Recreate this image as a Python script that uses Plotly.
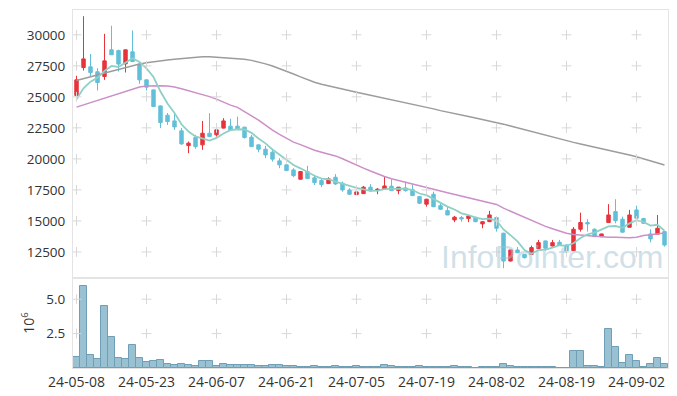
import plotly.graph_objects as go

dates = [
    "24-05-08", "24-05-09", "24-05-10", "24-05-13", "24-05-14", "24-05-16", "24-05-17",
    "24-05-20", "24-05-21", "24-05-22", "24-05-23", "24-05-24", "24-05-27", "24-05-28",
    "24-05-29", "24-05-30", "24-05-31", "24-06-03", "24-06-04", "24-06-05", "24-06-07",
    "24-06-10", "24-06-11", "24-06-12", "24-06-13", "24-06-14", "24-06-17", "24-06-18",
    "24-06-19", "24-06-20", "24-06-21", "24-06-24", "24-06-25", "24-06-26", "24-06-27",
    "24-06-28", "24-07-01", "24-07-02", "24-07-03", "24-07-04", "24-07-05", "24-07-08",
    "24-07-09", "24-07-10", "24-07-11", "24-07-12", "24-07-15", "24-07-16", "24-07-17",
    "24-07-18", "24-07-19", "24-07-22", "24-07-23", "24-07-24", "24-07-25", "24-07-26",
    "24-07-29", "24-07-30", "24-07-31", "24-08-01", "24-08-02", "24-08-05", "24-08-06",
    "24-08-07", "24-08-08", "24-08-09", "24-08-12", "24-08-13", "24-08-14", "24-08-16",
    "24-08-19", "24-08-20", "24-08-21", "24-08-22", "24-08-23", "24-08-26", "24-08-27",
    "24-08-28", "24-08-29", "24-08-30", "24-09-02", "24-09-03", "24-09-04", "24-09-05",
    "24-09-06",
]

open_ = [
    25100, 27360, 27420, 27020, 26640, 28790, 28730, 27660, 28630, 27640,
    26370, 25560, 24270, 23520, 23060, 22260, 21070, 21720, 21130, 22070,
    21940, 22480, 22640, 22640, 22560, 21750, 21130, 20780, 20540, 19840,
    19520, 19110, 18360, 18980, 18470, 18250, 18010, 18520, 18040, 17500,
    17120, 17200, 17720, 17440, 17560, 17800, 17440, 17660, 17520, 16960,
    16350, 17150, 16230, 15830, 15080, 15270, 15190, 15300, 14760, 14940,
    15270, 14010, 11770, 12660, 12310, 12310, 12770, 13390, 12980, 13280,
    13060, 12600, 14330, 14870, 14330, 13730, 14870, 15750, 15140, 14490,
    15890, 15190, 13950, 13930, 14140,
]
high = [
    26700, 31500, 28450, 27310, 30080, 30730, 28800, 28800, 30350, 27650,
    26400, 25600, 24300, 23700, 23690, 22480, 21400, 21940, 23060, 23690,
    22740, 23280, 23230, 23410, 22580, 21930, 21150, 21050, 20780, 20060,
    19540, 19250, 19000, 19440, 18710, 18440, 18520, 18770, 18170, 17640,
    17690, 17820, 17960, 17640, 18580, 18360, 17730, 18170, 17960, 17000,
    16780, 17360, 16430, 16150, 15400, 15400, 15410, 15310, 14960, 15810,
    15300, 14050, 12680, 12900, 12330, 13010, 13470, 13400, 13470, 13470,
    13100, 14500, 15670, 15140, 14400, 13960, 16350, 16750, 15350, 15890,
    16230, 15200, 14330, 15480, 14150,
]
low = [
    24750, 27120, 26640, 25510, 26370, 28380, 27040, 26960, 27800, 26050,
    25510, 24200, 22480, 22740, 22340, 21130, 20460, 20810, 20730, 21780,
    21800, 22450, 22260, 22400, 21640, 20970, 20540, 20060, 19780, 19250,
    19040, 18520, 18340, 18400, 17900, 17720, 18000, 17900, 17360, 17100,
    17100, 17190, 17360, 17150, 17500, 17430, 17150, 17360, 17020, 16350,
    16150, 16100, 15890, 15470, 14900, 14940, 14900, 14900, 14410, 14930,
    14140, 11190, 11720, 12400, 11960, 12300, 12750, 12580, 12950, 13030,
    12580, 12580, 14140, 14140, 13700, 13720, 14860, 14810, 14080, 14480,
    15200, 14760, 13280, 13920, 12930,
]
close = [
    26370, 28060, 26960, 26150, 27900, 28390, 27640, 28790, 27850, 26370,
    25780, 24220, 22930, 23010, 22580, 21210, 21270, 20990, 22070, 21800,
    22340, 23060, 22310, 22420, 21720, 20990, 20780, 20320, 19980, 19520,
    19060, 18650, 18980, 18410, 18090, 17930, 18390, 17980, 17500, 17150,
    17340, 17720, 17420, 17560, 17820, 17440, 17720, 17440, 17040, 16430,
    16750, 16150, 15940, 15480, 15300, 15160, 15400, 14940, 14940, 15480,
    14410, 11770, 12660, 12440, 12040, 12850, 13250, 12800, 13250, 13040,
    12600, 14330, 14870, 14760, 13730, 13950, 15480, 15020, 14090, 15480,
    15220, 14810, 13550, 14410, 13060,
]

ma5 = [
    24800, 25690, 26220, 26530, 27090, 27490, 27410, 27770, 28110, 27810,
    27290, 26600, 25430, 24460, 23700, 22790, 22200, 21810, 21620, 21470,
    21690, 22050, 22320, 22390, 22370, 22100, 21640, 21250, 20760, 20320,
    19930, 19510, 19240, 18920, 18640, 18410, 18360, 18160, 17980, 17790,
    17670, 17540, 17430, 17440, 17570, 17590, 17590, 17600, 17490, 17210,
    17080, 16760, 16460, 16150, 15920, 15610, 15460, 15260, 15150, 15180,
    15030, 14310, 13850, 13350, 12660, 12350, 12650, 12680, 12840, 13040,
    12990, 13200, 13620, 13920, 14060, 14330, 14560, 14590, 14450, 14800,
    15060, 14920, 14630, 14690, 14210,
]
ma20 = [
    24170, 24350, 24520, 24680, 24900, 25100, 25280, 25450, 25620, 25800,
    25870, 25900, 25900, 25880, 25800, 25650, 25500, 25320, 25170, 25020,
    24820, 24570, 24330, 24150, 23840, 23470, 23130, 22700, 22310, 21970,
    21630, 21350, 21150, 20920, 20700, 20540, 20390, 20240, 20010, 19780,
    19530, 19260, 19020, 18780, 18580, 18400, 18250, 18110, 17960, 17800,
    17690, 17560, 17410, 17270, 17130, 16990, 16840, 16690, 16560, 16470,
    16330, 16030, 15790, 15540, 15250, 15020, 14790, 14560, 14370, 14200,
    14000, 13900, 13850, 13820, 13740, 13680, 13680, 13680, 13640, 13640,
    13680, 13830, 13880, 13980, 14030,
]
ma60 = [
    26320, 26480, 26630, 26780, 26920, 27060, 27210, 27360, 27500, 27640,
    27740, 27830, 27910, 27970, 28030, 28090, 28150, 28200, 28240, 28230,
    28190, 28150, 28120, 28080, 28030, 27940, 27830, 27660, 27480, 27280,
    27070, 26840, 26610, 26390, 26180, 26020, 25880, 25740, 25610, 25480,
    25370, 25250, 25130, 25010, 24890, 24780, 24680, 24560, 24440, 24310,
    24170, 24030, 23890, 23760, 23640, 23530, 23420, 23300, 23190, 23070,
    22940, 22800, 22650, 22500, 22340, 22180, 22020, 21880, 21740, 21600,
    21470, 21330, 21200, 21080, 20960, 20840, 20710, 20580, 20450, 20320,
    20170, 20000, 19840, 19680, 19500,
]
volume = [
    0.81, 5.96, 0.93, 0.64, 4.49, 2.28, 0.71, 0.66, 1.69, 0.71,
    0.44, 0.51, 0.56, 0.29, 0.22, 0.29, 0.22, 0.15, 0.51, 0.51,
    0.15, 0.29, 0.22, 0.22, 0.22, 0.22, 0.15, 0.15, 0.22, 0.22,
    0.15, 0.15, 0.07, 0.07, 0.15, 0.07, 0.07, 0.12, 0.07, 0.07,
    0.12, 0.07, 0.07, 0.07, 0.20, 0.12, 0.07, 0.07, 0.07, 0.12,
    0.07, 0.07, 0.07, 0.07, 0.12, 0.07, 0.04, 0.02, 0.07, 0.07,
    0.07, 0.29, 0.12, 0.07, 0.07, 0.07, 0.07, 0.07, 0.07, 0.02,
    0.02, 1.23, 1.23, 0.12, 0.12, 0.07, 2.84, 1.52, 0.37, 0.93,
    0.51, 0.07, 0.27, 0.71, 0.27,
]

price_ticks = [12500, 15000, 17500, 20000, 22500, 25000, 27500, 30000]
price_tick_text = [str(p) for p in price_ticks]
volume_ticks = [2.5, 5.0]
volume_tick_text = ["2.5", "5.0"]
date_ticks = dates[::10]

FONT = "Open Sans, Noto Sans, sans-serif"
GRID = "#d8d8d8"
FRAME = "#e4e4e4"

fig = go.Figure()

fig.add_trace(go.Scatter(x=dates, y=ma60, mode="lines", line=dict(color="#9c9c9c", width=1.5),
                         xaxis="x", yaxis="y", showlegend=False, hoverinfo="skip"))
fig.add_trace(go.Scatter(x=dates, y=ma20, mode="lines", line=dict(color="#cc8fc8", width=1.5),
                         xaxis="x", yaxis="y", showlegend=False, hoverinfo="skip"))
fig.add_trace(go.Scatter(x=dates, y=ma5, mode="lines", line=dict(color="#8fd0c6", width=1.8),
                         xaxis="x", yaxis="y", showlegend=False, hoverinfo="skip"))

fig.add_trace(go.Candlestick(
    x=dates, open=open_, high=high, low=low, close=close,
    xaxis="x", yaxis="y",
    increasing=dict(line=dict(color="#e8333b", width=1), fillcolor="#e8333b"),
    decreasing=dict(line=dict(color="#62bfd8", width=1), fillcolor="#62bfd8"),
    whiskerwidth=0, showlegend=False,
))

fig.add_trace(go.Bar(x=dates, y=volume, xaxis="x2", yaxis="y2",
                     marker=dict(color="#99c1d1", line=dict(color="#6f9fb6", width=1)),
                     width=1.0, showlegend=False))

# cross-shaped grid marks at tick intersections
gx, gy = [], []
for d in date_ticks:
    for p in price_ticks:
        gx.append(d)
        gy.append(p)
fig.add_trace(go.Scatter(x=gx, y=gy, mode="markers", xaxis="x", yaxis="y",
                         marker=dict(symbol="cross-thin", size=7, line=dict(color=GRID, width=1)),
                         hoverinfo="skip", showlegend=False))
vx, vy = [], []
for d in date_ticks:
    for v in volume_ticks:
        vx.append(d)
        vy.append(v)
fig.add_trace(go.Scatter(x=vx, y=vy, mode="markers", xaxis="x2", yaxis="y2",
                         marker=dict(symbol="cross-thin", size=7, line=dict(color=GRID, width=1)),
                         hoverinfo="skip", showlegend=False))

split = 90 / 358
axis_common = dict(type="category", categoryorder="array", categoryarray=dates,
                   range=[-0.5, len(dates) - 0.5], showgrid=False, automargin=False,
                   showline=True, mirror=True, linecolor=FRAME, linewidth=1, zeroline=False,
                   fixedrange=True)

# the page body adds an 8px offset, so the figure is sized to fill the rest of the window
fig.update_layout(
    width=669, height=388,
    margin=dict(l=65, r=9, t=2, b=28, autoexpand=False),
    paper_bgcolor="white", plot_bgcolor="white",
    font=dict(family=FONT, size=13, color="#333333"),
    showlegend=False,
    bargap=0,
    xaxis=dict(domain=[0, 1], anchor="y", showticklabels=False, rangeslider=dict(visible=False),
               **axis_common),
    xaxis2=dict(domain=[0, 1], anchor="y2", tickmode="array", tickvals=date_ticks,
                ticktext=date_ticks, tickangle=0, ticks="outside", ticklen=1,
                tickcolor="rgba(0,0,0,0)",
                tickfont=dict(size=14, color="#333333"), **axis_common),
    yaxis=dict(domain=[split, 1], anchor="x", range=[10400, 32000], tickmode="array",
               tickvals=price_ticks, ticktext=price_tick_text, ticks="outside", ticklen=4,
               tickcolor="rgba(0,0,0,0)", automargin=False,
               tickfont=dict(size=13.5, color="#333333"),
               showgrid=False, showline=True, mirror=True, linecolor=FRAME, zeroline=False),
    yaxis2=dict(domain=[0, split], anchor="x2", range=[0, 6.54], tickmode="array",
                tickvals=volume_ticks, ticktext=volume_tick_text, ticks="outside", ticklen=4,
                tickcolor="rgba(0,0,0,0)", showgrid=False, showline=True, mirror=True,
                linecolor=FRAME, zeroline=False, automargin=False,
                tickfont=dict(size=13.5, color="#333333"),
                title=dict(text="10<sup>6</sup>", font=dict(size=14, color="#333333"), standoff=8)),
    annotations=[dict(text="InfoPointer.com", xref="paper", yref="paper", x=0.805, y=0.31,
                      xanchor="center", yanchor="middle", showarrow=False,
                      font=dict(family="Liberation Sans, Arial, sans-serif",
                                size=32, color="rgba(160,194,210,0.5)"))],
)

fig.write_html("out.html")
